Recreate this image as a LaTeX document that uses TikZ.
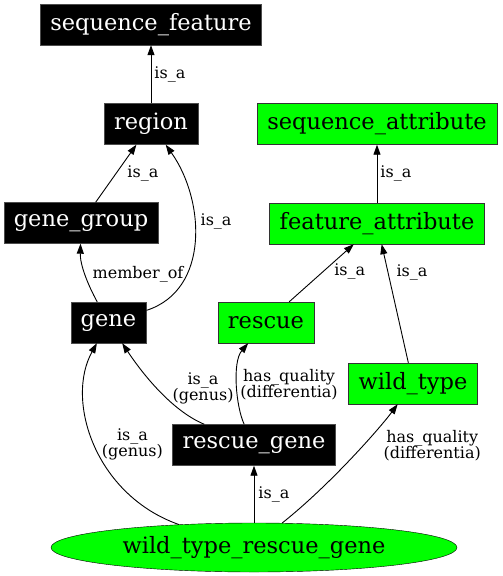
\documentclass[tikz,border=0pt]{standalone}
\usepackage{fontspec}
\setmainfont{DejaVu Serif}
\usetikzlibrary{arrows.meta, positioning, shapes.geometric}

\begin{document}
\begin{tikzpicture}[
        x=1pt, y=-1pt,
        term/.style={draw=black!70, fill=black, text=white, minimum height=41pt, inner xsep=10pt, font=\fontsize{22.5}{27}\selectfont},
        attr/.style={draw=black!80, fill=green, text=black, minimum height=41pt, inner xsep=10pt, font=\fontsize{22.5}{27}\selectfont},
        arrow/.style={-{Triangle[length=10pt, width=7pt]}, line width=0.9pt},
        lbl/.style={font=\fontsize{16}{16}\selectfont, align=center, inner sep=2pt}
    ]
        \useasboundingbox (0,0) rectangle (503,576);

        % Sequence terms
        \node[term] (seqfeat) at (151, 24.5) {sequence\_feature};
        \node[term] (region) at (151, 124) {region};
        \node[term] (genegroup) at (81, 223) {gene\_group};
        \node[term] (gene) at (108.5, 322.5) {gene};
        \node[term] (rescuegene) at (254, 445) {rescue\_gene};

        % Attributes
        \node[attr] (seqattr) at (377, 124) {sequence\_attribute};
        \node[attr] (featattr) at (377, 223.5) {feature\_attribute};
        \node[attr] (rescue) at (266, 322.5) {rescue};
        \node[attr] (wildtype) at (413, 383.5) {wild\_type};

        % Defined term
        \node[ellipse, draw, fill=green, minimum width=406pt, minimum height=49pt, inner sep=0pt, font=\fontsize{22.5}{27}\selectfont] (wtrg) at (254, 547.5) {wild\_type\_rescue\_gene};

        % Arrows
        \draw[arrow] (region) -- (seqfeat) node[lbl, midway, right=1pt] {is\_a};
        \draw[arrow] (genegroup) -- (region) node[lbl, midway, right=9pt] {is\_a};
        \draw[arrow] (gene) .. controls (210,290) and (205,200) .. (region) node[lbl, pos=0.6, right=4pt] {is\_a};
        \draw[arrow] (gene) .. controls (88,285) and (80,265) .. (genegroup) node[lbl, pos=0.5, right=5pt] {member\_of};
        \draw[arrow] (featattr) -- (seqattr) node[lbl, midway, right=1pt] {is\_a};
        \draw[arrow] (rescue) -- (featattr) node[lbl, pos=0.52, right=9pt] {is\_a};
        \draw[arrow] (wildtype) -- (featattr) node[lbl, pos=0.76, right=6pt] {is\_a};
        \draw[arrow] (rescuegene) .. controls (170,410) and (140,370) .. (gene) node[lbl, pos=0.5, right=13pt] {is\_a\\(genus)};
        \draw[arrow] (rescuegene) .. controls (236,407) and (232,362) .. (rescue) node[lbl, pos=0.5, right=1pt] {has\_quality\\(differentia)};
        \draw[arrow] (wtrg.163) .. controls (95,495) and (65,400) .. (gene) node[lbl, pos=0.5, right=5pt] {is\_a\\(genus)};
        \draw[arrow] (wtrg) -- (rescuegene) node[lbl, midway, right=2pt] {is\_a};
        \draw[arrow] (wtrg.41) .. controls (330,485) and (380,428) .. (wildtype) node[lbl, pos=0.6, right=18pt] {has\_quality\\(differentia)};
    \end{tikzpicture}
\end{document}
